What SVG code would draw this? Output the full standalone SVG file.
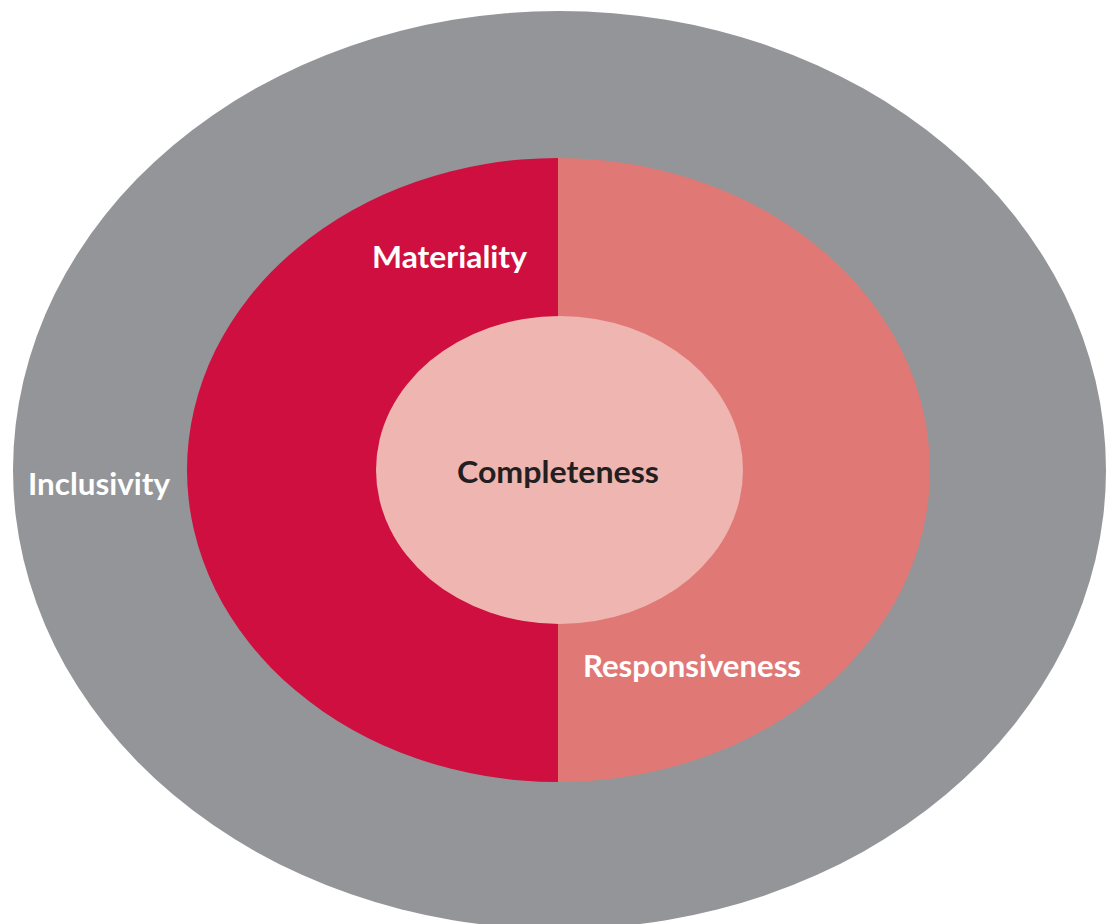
<svg xmlns="http://www.w3.org/2000/svg" width="1115" height="924" viewBox="0 0 1115 924">
  <style>
    .lbl { font-family: Lato, "Open Sans", "Liberation Sans", sans-serif; font-weight: 700; font-size: 31px; }
    .light { fill: #ffffff; }
    .dark { fill: #231f20; }
  </style>
  <rect width="1115" height="924" fill="#ffffff"/>
  <g id="inclusivity">
    <ellipse cx="559.5" cy="470" rx="546.5" ry="459" fill="#939598"/>
    <text class="lbl light" x="28" y="495" textLength="142" lengthAdjust="spacingAndGlyphs">Inclusivity</text>
  </g>
  <g id="materiality">
    <path d="M558 158 A371 312 0 0 0 558 782 Z" fill="#ce0f3f"/>
    <text class="lbl light" x="372" y="268" textLength="155" lengthAdjust="spacingAndGlyphs">Materiality</text>
  </g>
  <g id="responsiveness">
    <path d="M558 158 A372 312 0 0 1 558 782 Z" fill="#e07976"/>
    <text class="lbl light" x="583" y="677" textLength="218" lengthAdjust="spacingAndGlyphs">Responsiveness</text>
  </g>
  <g id="completeness">
    <ellipse cx="559.5" cy="470" rx="183.5" ry="154" fill="#efb5b1"/>
    <text class="lbl dark" x="457" y="483" textLength="202" lengthAdjust="spacingAndGlyphs">Completeness</text>
  </g>
</svg>
